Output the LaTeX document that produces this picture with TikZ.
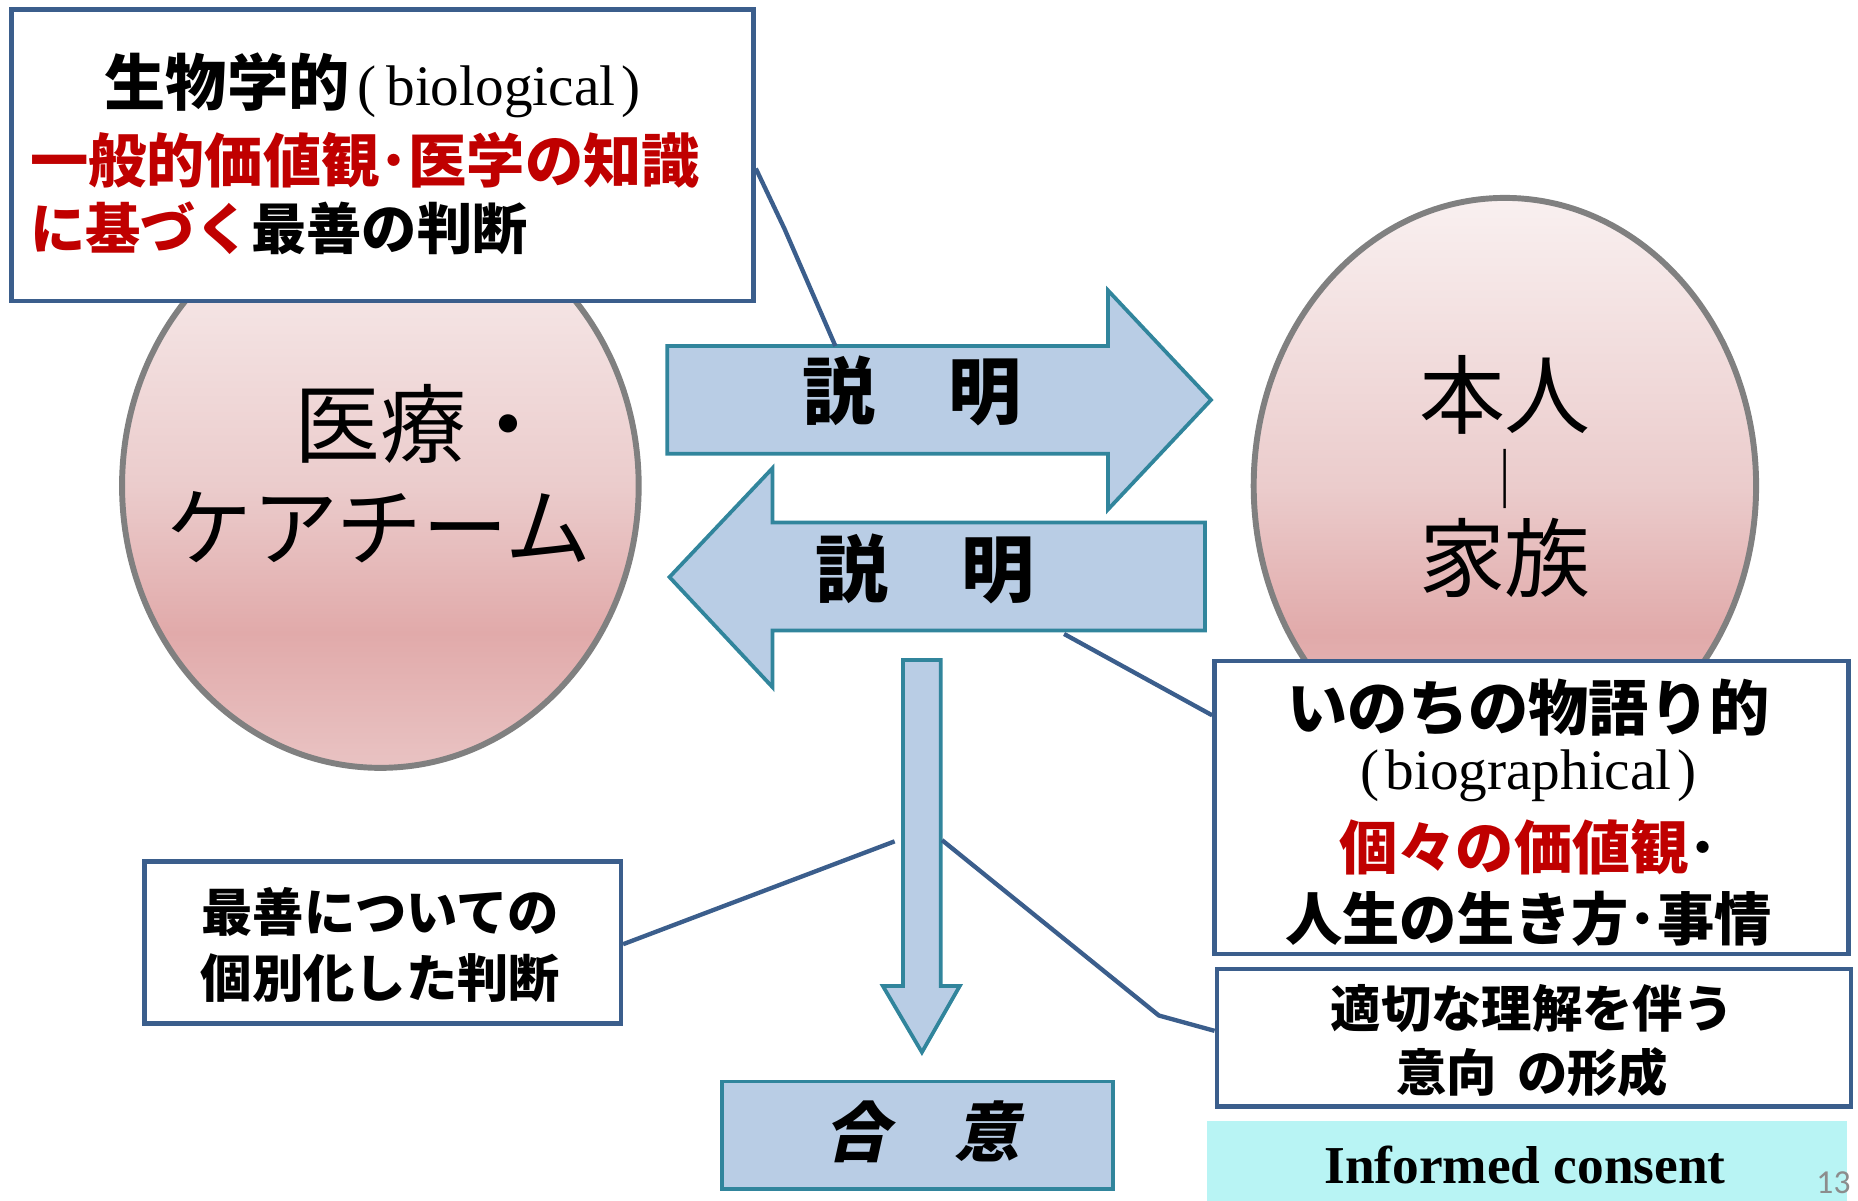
\documentclass[tikz,border=0pt]{standalone}
\usepackage{fontspec}
\setmainfont{Liberation Serif}
\newfontfamily\jp{Noto Sans CJK JP}
\newfontfamily\jpsl{Noto Sans CJK JP}[FakeSlant=0.22]
\newfontfamily\pnfont{Carlito}
\usetikzlibrary{shapes.geometric,calc}
\definecolor{boxblue}{RGB}{59,94,140}
\definecolor{arrfill}{RGB}{185,205,229}
\definecolor{arrteal}{RGB}{49,133,156}
\definecolor{myred}{RGB}{192,0,0}
\definecolor{ringgray}{RGB}{128,128,128}
\definecolor{cyanfill}{RGB}{184,244,244}
\definecolor{pngray}{RGB}{140,140,140}
\definecolor{pinkT}{RGB}{249,240,240}
\definecolor{pinkM}{RGB}{235,204,204}
\definecolor{pinkD}{RGB}{225,170,170}
\definecolor{pinkB}{RGB}{233,195,195}
\newcommand\fsz[1]{\fontsize{#1}{#1}\selectfont}
\pgfdeclareverticalshading{pinkgrad}{100bp}{color(0bp)=(pinkB); color(25bp)=(pinkB); color(37bp)=(pinkD); color(50bp)=(pinkM); color(75bp)=(pinkT); color(100bp)=(pinkT)}
\tikzset{
  frame/.style={draw=boxblue, line width=2.3pt, fill=white, inner sep=0pt, anchor=north west},
  arrowshape/.style={draw=arrteal, fill=arrfill, line width=1.9pt, line join=miter},
  conn/.style={draw=boxblue, line width=2.2pt},
  circ/.style={ellipse, draw=ringgray, line width=3pt, shading=pinkgrad, inner sep=0pt},
  txt/.style={inner sep=0pt},
  jb/.style={txt, font=\jp\bfseries\fsz{#1}},
  jr/.style={txt, font=\jp\fsz{#1}}
}
\begin{document}
\begin{tikzpicture}[x=0.6pt,y=-0.6pt]
\useasboundingbox (0,0) rectangle (1568,1013);

% ellipses
\node[circ, minimum width=261.6pt, minimum height=285.6pt] (team) at (321,410) {};
\node[circ, minimum width=254.4pt, minimum height=291.6pt] (fam) at (1270,410) {};

\node[jr=43.5pt] (team1) at (357,358) {医療・};
\node[jr=43.5pt] (team2) at (320,445) {ケアチーム};
\node[jr=43.5pt] (fam1) at (1270,333) {本人};
\node[jr=30pt] (famb) at (1270,404) {｜};
\node[jr=43.5pt] (fam2) at (1270,471) {家族};

% top-left box
\node[frame, minimum width=375.6pt, minimum height=147.6pt] (bio) at (8,6) {};
\node[jb=31pt, anchor=west] (bio1) at (88,72) {生物学的{\rmfamily\mdseries\fsz{29pt}\hspace{4pt}(\hspace{5pt}biological\hspace{3pt})}};
\node[jb=29.5pt, anchor=west] (bio2) at (25,135) {\color{myred}一般的価値観･医学の知識};
\node[jb=28pt, anchor=west] (bio3) at (25,193) {{\color{myred}に基づく}最善の判断};

% arrows
\draw[arrowshape] (563,292) -- (935,292) -- (935,245) -- (1022,337.5) -- (935,430) -- (935,383) -- (563,383) -- cycle;
\node[jb=37pt] (exp1) at (770,330) {説　明};
\draw[arrowshape] (1017,441) -- (652,441) -- (652,395) -- (565,487) -- (652,580) -- (652,532) -- (1017,532) -- cycle;
\node[jb=37pt] (exp2) at (781,480) {説　明};
\draw[arrowshape] (762,557) -- (794,557) -- (794,832) -- (810,832) -- (778,888) -- (745,832) -- (762,832) -- cycle;

\coordinate (arrTop) at (705,292);
\coordinate (arrBot) at (898,535);
\coordinate (shaftL) at (755,710);
\coordinate (shaftR) at (795,709);

% right boxes
\node[frame, minimum width=321pt, minimum height=148.2pt] (story) at (1023,556) {};
\node[jb=30.5pt] (story1) at (1290,597) {いのちの物語り的};
\node[txt, font=\rmfamily\fsz{29pt}] (story2) at (1290,655) {(\hspace{3pt}biographical\hspace{3pt})};
\node[jb=29.5pt] (story3) at (1290,715) {{\color{myred}個々の価値観}･};
\node[jb=29pt] (story4) at (1290,775) {人生の生き方･事情};

\node[frame, minimum width=321pt, minimum height=69.6pt] (will) at (1025,816) {};
\node[jb=25.5pt] (will1) at (1293,851) {適切な理解を伴う};
\node[jb=25.5pt] (will2) at (1293,905) {意向\hspace{0.4em}の形成};

\node[fill=cyanfill, inner sep=0pt, anchor=north west, minimum width=324pt, minimum height=40.2pt] (ic) at (1018,946) {};
\node[txt, font=\rmfamily\bfseries\fsz{27pt}] (ict) at (1287,983) {Informed consent};

% left bottom box
\node[frame, minimum width=241.2pt, minimum height=82.2pt] (indiv) at (120,725) {};
\node[jb=26pt] (indiv1) at (321,770) {最善についての};
\node[jb=26pt] (indiv2) at (321,825) {個別化した判断};

% agreement box
\node[frame, draw=arrteal, fill=arrfill, line width=1.9pt, minimum width=198pt, minimum height=54.6pt] (agree) at (608,911) {};
\node[txt, font=\jpsl\bfseries\fsz{33pt}] (agreet) at (778,955) {合　意};

% connectors
\draw[conn] ($(bio.north east)!0.545!(bio.south east)$) -- (662,193) -- (arrTop);
\draw[conn] (arrBot) -- ($(story.north west)!0.19!(story.south west)$);
\draw[conn] (shaftL) -- ($(indiv.north east)!0.51!(indiv.south east)$);
\draw[conn] (shaftR) -- (978,857) -- ($(will.north west)!0.45!(will.south west)$);

\node[anchor=base east, font=\pnfont\fsz{17pt}, text=pngray, inner sep=0pt] (pn) at (1562,1007) {13};
\end{tikzpicture}
\end{document}
